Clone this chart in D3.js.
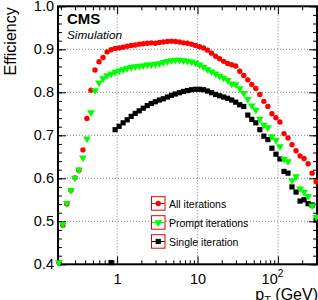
<!DOCTYPE html>
<html>
<head>
<meta charset="utf-8">
<script src="https://cdn.jsdelivr.net/npm/d3@7"></script>
<style>
  body { margin: 0; background: #fff; }
  svg { display: block; font-family: "Liberation Sans", Arial, Helvetica, sans-serif; }
  .grid line { stroke: #666; stroke-width: 0.8; stroke-dasharray: 1,2; }
  .axis path { display: none; }
  .axis line { stroke: #000; stroke-width: 1; }
</style>
</head>
<body>
<svg id="chart" width="318" height="300"></svg>
<script>
// pT bin centres (GeV), 20 log bins per decade
const pt = [0.1884, 0.2113, 0.2371, 0.2661, 0.2985, 0.3350, 0.3758, 0.4217, 0.4732, 0.5309,
  0.5957, 0.6683, 0.7499, 0.8414, 0.9441, 1.059, 1.189, 1.334, 1.496, 1.679,
  1.884, 2.113, 2.371, 2.661, 2.985, 3.350, 3.758, 4.217, 4.732, 5.309,
  5.957, 6.683, 7.499, 8.414, 9.441, 10.59, 11.89, 13.34, 14.96, 16.79,
  18.84, 21.13, 23.71, 26.61, 29.85, 33.50, 37.58, 42.17, 47.32, 53.09,
  59.57, 66.83, 74.99, 84.14, 94.41, 105.9, 118.9, 133.4, 149.6, 167.9,
  188.4, 211.3, 237.1, 266.1, 298.5];

const effAll = [0.404, 0.491, 0.540, 0.572, 0.601, 0.619, 0.666, 0.739, 0.805, 0.852,
  0.871, 0.881, 0.894, 0.899, 0.902, 0.903, 0.905, 0.907, 0.909, 0.910,
  0.912, 0.913, 0.914, 0.915, 0.914, 0.916, 0.917, 0.918, 0.919, 0.918,
  0.917, 0.915, 0.914, 0.912, 0.909, 0.906, 0.903, 0.898, 0.891, 0.884,
  0.878, 0.872, 0.867, 0.864, 0.861, 0.849, 0.839, 0.829, 0.818, 0.809,
  0.795, 0.779, 0.767, 0.750, 0.741, 0.731, 0.704, 0.694, 0.678, 0.664,
  0.652, 0.646, 0.634, 0.612, 0.592];

const effPrompt = [0.404, 0.493, 0.542, 0.572, 0.601, 0.620, 0.648, 0.692, 0.753, 0.804,
  0.822, 0.832, 0.839, 0.843, 0.847, 0.850, 0.853, 0.856, 0.858, 0.860,
  0.861, 0.862, 0.864, 0.864, 0.866, 0.867, 0.870, 0.872, 0.874, 0.875,
  0.875, 0.874, 0.873, 0.871, 0.868, 0.864, 0.859, 0.853, 0.848, 0.843,
  0.838, 0.833, 0.828, 0.820, 0.818, 0.809, 0.798, 0.784, 0.769, 0.759,
  0.738, 0.724, 0.718, 0.697, 0.689, 0.674, 0.645, 0.639, 0.595, 0.604,
  0.576, 0.568, 0.558, 0.536, 0.510];

const effSingle = [null, null, null, null, null, null, null, null, null, null,
  null, null, null, 0.404, 0.713, 0.721, 0.729, 0.736, 0.744, 0.751,
  0.757, 0.763, 0.769, 0.774, 0.778, 0.782, 0.785, 0.789, 0.793, 0.796,
  0.799, 0.802, 0.804, 0.806, 0.807, 0.807, 0.806, 0.803, 0.799, 0.795,
  0.792, 0.789, 0.786, 0.782, 0.777, 0.771, 0.767, 0.747, 0.737, 0.729,
  0.713, 0.698, 0.690, 0.670, 0.656, 0.645, 0.616, 0.612, 0.580, 0.568,
  0.547, 0.550, 0.541, 0.538, 0.503];

const yTicks = [0.4, 0.5, 0.6, 0.7, 0.8, 0.9, 1.0];
const xTicks = [1, 10, 100];
const xMinor = [0.2, 0.3, 0.4, 0.5, 0.6, 0.7, 0.8, 0.9, 2, 3, 4, 5, 6, 7, 8, 9,
  20, 30, 40, 50, 60, 70, 80, 90, 200, 300];
const legendNames = ["All iterations", "Prompt iterations", "Single iteration"];

const svg = d3.select("#chart");
const pLeft = 58, pRight = 317, pTop = 6.3, pBottom = 264.3;

const x = d3.scaleLog().domain([0.184, 306]).range([pLeft, pRight]);
const y = d3.scaleLinear().domain([0.4, 1.0]).range([pBottom, pTop]);

// grid
const grid = svg.append("g").attr("class", "grid");
grid.selectAll(".gy").data(yTicks.filter(d => d > 0.45 && d < 0.95)).enter().append("line")
  .attr("x1", pLeft).attr("x2", pRight).attr("y1", d => y(d)).attr("y2", d => y(d));
grid.selectAll(".gx").data(xTicks).enter().append("line")
  .attr("y1", pTop).attr("y2", pBottom).attr("x1", d => x(d)).attr("x2", d => x(d));

// axes (ticks inward, ROOT style)
const ySub = d3.range(40, 101, 2).map(d => d / 100);
svg.append("g").attr("class", "axis").attr("transform", `translate(${pLeft},0)`)
  .call(d3.axisLeft(y).tickValues(ySub).tickSize(-4).tickFormat(""));
svg.append("g").attr("class", "axis").attr("transform", `translate(${pRight},0)`)
  .call(d3.axisRight(y).tickValues(ySub).tickSize(-4).tickFormat(""));
svg.append("g").attr("class", "axis").attr("transform", `translate(${pRight},0)`)
  .call(d3.axisRight(y).tickValues(yTicks).tickSize(-8).tickFormat(""));
const yAx = svg.append("g").attr("class", "axis").attr("transform", `translate(${pLeft},0)`)
  .call(d3.axisLeft(y).tickValues(yTicks).tickSize(-8).tickPadding(4).tickFormat(d3.format(".1f")));
yAx.selectAll("text").attr("font-size", 14.5).attr("fill", "#000")
  .attr("font-family", "Liberation Sans, Arial, sans-serif");

svg.append("g").attr("class", "axis").attr("transform", `translate(0,${pBottom})`)
  .call(d3.axisBottom(x).tickValues(xMinor).tickSize(-4).tickFormat(""));
svg.append("g").attr("class", "axis").attr("transform", `translate(0,${pTop})`)
  .call(d3.axisTop(x).tickValues(xMinor).tickSize(-4).tickFormat(""));
svg.append("g").attr("class", "axis").attr("transform", `translate(0,${pTop})`)
  .call(d3.axisTop(x).tickValues(xTicks).tickSize(-8).tickFormat(""));
const xAx = svg.append("g").attr("class", "axis").attr("transform", `translate(0,${pBottom})`)
  .call(d3.axisBottom(x).tickValues(xTicks).tickSize(-8).tickFormat(""));

// x tick labels
xAx.selectAll(".tick").each(function(d) {
  const g = d3.select(this);
  const t = g.append("text").attr("y", 20).attr("font-size", 14.5).attr("fill", "#000")
    .attr("text-anchor", "middle");
  if (d < 50) t.text(d3.format("d")(d));
  else {
    t.attr("x", -6);
    t.append("tspan").text("10");
    t.append("tspan").attr("font-size", 10).attr("dy", -7).text("2");
  }
});

// frame
svg.append("rect").attr("x", pLeft).attr("y", pTop)
  .attr("width", pRight - pLeft).attr("height", pBottom - pTop)
  .attr("fill", "none").attr("stroke", "#000").attr("stroke-width", 2);

// titles
svg.append("text").attr("transform", `translate(16,${pTop + 1}) rotate(-90)`)
  .attr("text-anchor", "end").attr("font-size", 16).text("Efficiency");
const xt = svg.append("text").attr("x", 318).attr("y", 299.5).attr("text-anchor", "end")
  .attr("font-size", 16);
xt.append("tspan").text("p");
xt.append("tspan").attr("font-size", 11).attr("dy", 4).text("T");
xt.append("tspan").attr("dy", -4).text(" (GeV)");

svg.append("text").attr("x", 67).attr("y", 24).attr("font-size", 15)
  .attr("font-weight", "bold").text("CMS");
svg.append("text").attr("x", 67).attr("y", 39).attr("font-size", 11.8)
  .attr("font-style", "italic").text("Simulation");

// markers
const tri = d3.symbol().type(d3.symbolTriangle).size(26);
function drawMarker(g, kind, cx, cy) {
  if (kind === 0) {
    g.append("circle").attr("cx", cx).attr("cy", cy).attr("r", 2.7).attr("fill", "#ff0000");
  } else if (kind === 1) {
    g.append("path").attr("d", tri())
      .attr("transform", `translate(${cx},${cy}) rotate(180)`).attr("fill", "#00ff00");
  } else {
    g.append("rect").attr("x", cx - 2.6).attr("y", cy - 2.6).attr("width", 5.2).attr("height", 5.2)
      .attr("fill", "#000");
  }
}

const series = [
  { kind: 0, vals: effAll },
  { kind: 2, vals: effSingle },
  { kind: 1, vals: effPrompt }
];
series.forEach(s => {
  const g = svg.append("g");
  s.vals.forEach((v, i) => {
    if (v === null) return;
    drawMarker(g, s.kind, x(pt[i]), y(v));
  });
});

// legend
const colors = ["#ff0000", "#00ff00", "#000"];
legendNames.forEach((name, i) => {
  const cy = 203.5 + i * 19;
  const g = svg.append("g");
  g.append("rect").attr("x", 151.5).attr("y", cy - 6.8).attr("width", 13.5).attr("height", 13.5)
    .attr("fill", "#fff").attr("stroke", "#e00000").attr("stroke-width", 1);
  g.append("line").attr("x1", 152).attr("x2", 164.5).attr("y1", cy).attr("y2", cy)
    .attr("stroke", colors[i]).attr("stroke-width", 1);
  drawMarker(g, i === 2 ? 2 : i, 158.25, cy);
  g.append("text").attr("x", 169).attr("y", cy + 4).attr("font-size", 10.5).text(name);
});
</script>
</body>
</html>
